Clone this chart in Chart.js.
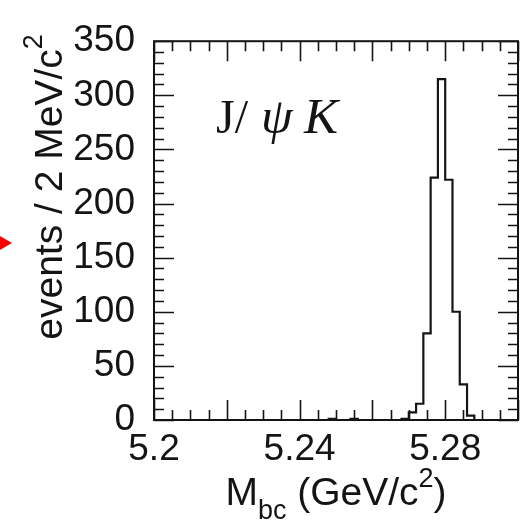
<!DOCTYPE html>
<html>
<head>
<meta charset="utf-8">
<script src="https://cdn.jsdelivr.net/npm/chart.js@4/dist/chart.umd.min.js"></script>
<style>
  html, body { margin: 0; padding: 0; background: #ffffff; }
  #wrap { width: 525px; height: 522px; position: relative; }
  canvas { display: block; }
</style>
</head>
<body>
<div id="wrap"><canvas id="c" width="525" height="522"></canvas></div>
<script>
// ---- data ----
const xMin = 5.2;
const xMax = 5.3;
const binWidth = 0.002;           // 2 MeV bins
// events per 2 MeV bin, 50 bins from 5.200 to 5.300 GeV/c^2
const counts = [
  0, 0, 0, 0, 0, 0, 0, 0, 0, 0,
  0, 0, 0, 0, 0, 0, 0, 0, 0, 0,
  0, 0, 0, 0, 1, 0, 0, 1, 0, 0,
  0, 0, 0, 0, 1, 7, 15, 80, 224, 315,
  222, 100, 33, 4, 0, 0, 0, 0, 0, 0
];
const xTickValues = [5.2, 5.24, 5.28];
const xTickLabels = ['5.2', '5.24', '5.28'];
const yMin = 0;
const yMax = 350;
const yTickValues = [0, 50, 100, 150, 200, 250, 300, 350];
const xMajorStep = 0.02, xMinorStep = 0.005;
const yMajorStep = 50, yMinorStep = 10;
const channelLabel = ['J/', 'ψ', 'K'];
const xTitle = ['M', 'bc', ' (GeV/c', '2', ')'];
const yTitle = ['events / 2 MeV/c', '2'];

// ---- build step-histogram points (left bin edges) ----
const points = counts.map((c, i) => ({ x: +(xMin + i * binWidth).toFixed(4), y: c }));
points.push({ x: xMax, y: counts[counts.length - 1] });

const SANS = '"Liberation Sans", Arial, Helvetica, sans-serif';
const SERIF = '"Liberation Serif", "Times New Roman", Times, serif';
const INK = '#141414';

const framePlugin = {
  id: 'frame',
  afterDraw(chart) {
    const ctx = chart.ctx;
    const a = chart.chartArea;
    const xs = chart.scales.x, ys = chart.scales.y;
    ctx.save();
    // frame
    ctx.strokeStyle = INK;
    ctx.lineWidth = 2;
    ctx.strokeRect(a.left, a.top, a.right - a.left, a.bottom - a.top);
    // inward ticks
    ctx.lineWidth = 1.6;
    ctx.beginPath();
    const nx = Math.round((xMax - xMin) / xMinorStep);
    for (let i = 0; i <= nx; i++) {
      const v = xMin + i * xMinorStep;
      const r = v / xMajorStep;
      const major = Math.abs(r - Math.round(r)) < 1e-6;
      const len = major ? 20 : 10;
      const px = Math.round(xs.getPixelForValue(v)) + 0.5;
      ctx.moveTo(px, a.bottom); ctx.lineTo(px, a.bottom - len);
      ctx.moveTo(px, a.top); ctx.lineTo(px, a.top + len);
    }
    const ny = Math.round((yMax - yMin) / yMinorStep);
    for (let i = 0; i <= ny; i++) {
      const v = yMin + i * yMinorStep;
      const major = (v % yMajorStep) === 0;
      const len = major ? 20 : 10;
      const py = Math.round(ys.getPixelForValue(v)) + 0.5;
      ctx.moveTo(a.left, py); ctx.lineTo(a.left + len, py);
      ctx.moveTo(a.right, py); ctx.lineTo(a.right - len, py);
    }
    ctx.stroke();

    // channel label  J/ψ K
    ctx.fillStyle = INK;
    ctx.textBaseline = 'alphabetic';
    ctx.textAlign = 'left';
    const lx = a.left + 62, ly = a.top + 92;
    ctx.font = '48px ' + SERIF;
    ctx.fillText(channelLabel[0], lx, ly);
    ctx.font = 'italic 51px ' + SERIF;
    ctx.fillText(channelLabel[1], lx + 45, ly);
    ctx.fillText(channelLabel[2], lx + 88, ly);

    // x title with subscript / superscript
    const big = '39px ' + SANS, small = '27px ' + SANS;
    const parts = [
      { t: xTitle[0], f: big, dy: 0 },
      { t: xTitle[1], f: small, dy: 14 },
      { t: xTitle[2], f: big, dy: 0 },
      { t: xTitle[3], f: small, dy: -18 },
      { t: xTitle[4], f: big, dy: 0 }
    ];
    let total = 0;
    parts.forEach(p => { ctx.font = p.f; p.w = ctx.measureText(p.t).width; total += p.w; });
    let cx = (a.left + a.right) / 2 - total / 2;
    const by = 505;
    parts.forEach(p => { ctx.font = p.f; ctx.fillText(p.t, cx, by + p.dy); cx += p.w; });

    // y title (rotated)
    ctx.save();
    ctx.translate(62, 187);
    ctx.rotate(-Math.PI / 2);
    ctx.font = big;
    const w1 = ctx.measureText(yTitle[0]).width;
    ctx.font = small;
    const w2 = ctx.measureText(yTitle[1]).width;
    const sx = -(w1 + w2) / 2;
    ctx.font = big;
    ctx.fillText(yTitle[0], sx, 0);
    ctx.font = small;
    ctx.fillText(yTitle[1], sx + w1, -20);
    ctx.restore();

    // red pointer at left edge
    ctx.fillStyle = '#ff0000';
    ctx.beginPath();
    ctx.moveTo(0, 236);
    ctx.lineTo(12, 243);
    ctx.lineTo(0, 250);
    ctx.closePath();
    ctx.fill();
    ctx.restore();
  }
};

new Chart(document.getElementById('c'), {
  type: 'line',
  data: {
    datasets: [{
      data: points,
      stepped: 'before',
      borderColor: INK,
      borderWidth: 2.2,
      pointRadius: 0,
      fill: false,
      tension: 0
    }]
  },
  options: {
    responsive: false,
    animation: false,
    devicePixelRatio: 1,
    layout: { padding: { left: 0, top: 25, right: 7, bottom: 0 } },
    plugins: { legend: { display: false }, tooltip: { enabled: false } },
    scales: {
      x: {
        type: 'linear',
        min: xMin,
        max: xMax,
        grid: { display: false, drawTicks: false },
        border: { display: false },
        afterBuildTicks: (s) => { s.ticks = xTickValues.map(v => ({ value: v })); },
        afterFit: (s) => { s.height = 102; },
        ticks: {
          autoSkip: false,
          maxRotation: 0,
          padding: 8,
          color: INK,
          font: { family: SANS, size: 37 },
          callback: (v) => { const i = xTickValues.findIndex(t => Math.abs(t - v) < 1e-9); return i >= 0 ? xTickLabels[i] : ''; }
        }
      },
      y: {
        type: 'linear',
        min: yMin,
        max: yMax,
        grid: { display: false, drawTicks: false },
        border: { display: false },
        afterBuildTicks: (s) => { s.ticks = yTickValues.map(v => ({ value: v })); },
        afterFit: (s) => { s.width = 154; },
        ticks: {
          autoSkip: false,
          padding: 19,
          color: INK,
          font: { family: SANS, size: 37 },
          callback: (v) => String(v)
        }
      }
    }
  },
  plugins: [framePlugin]
});
</script>
</body>
</html>
